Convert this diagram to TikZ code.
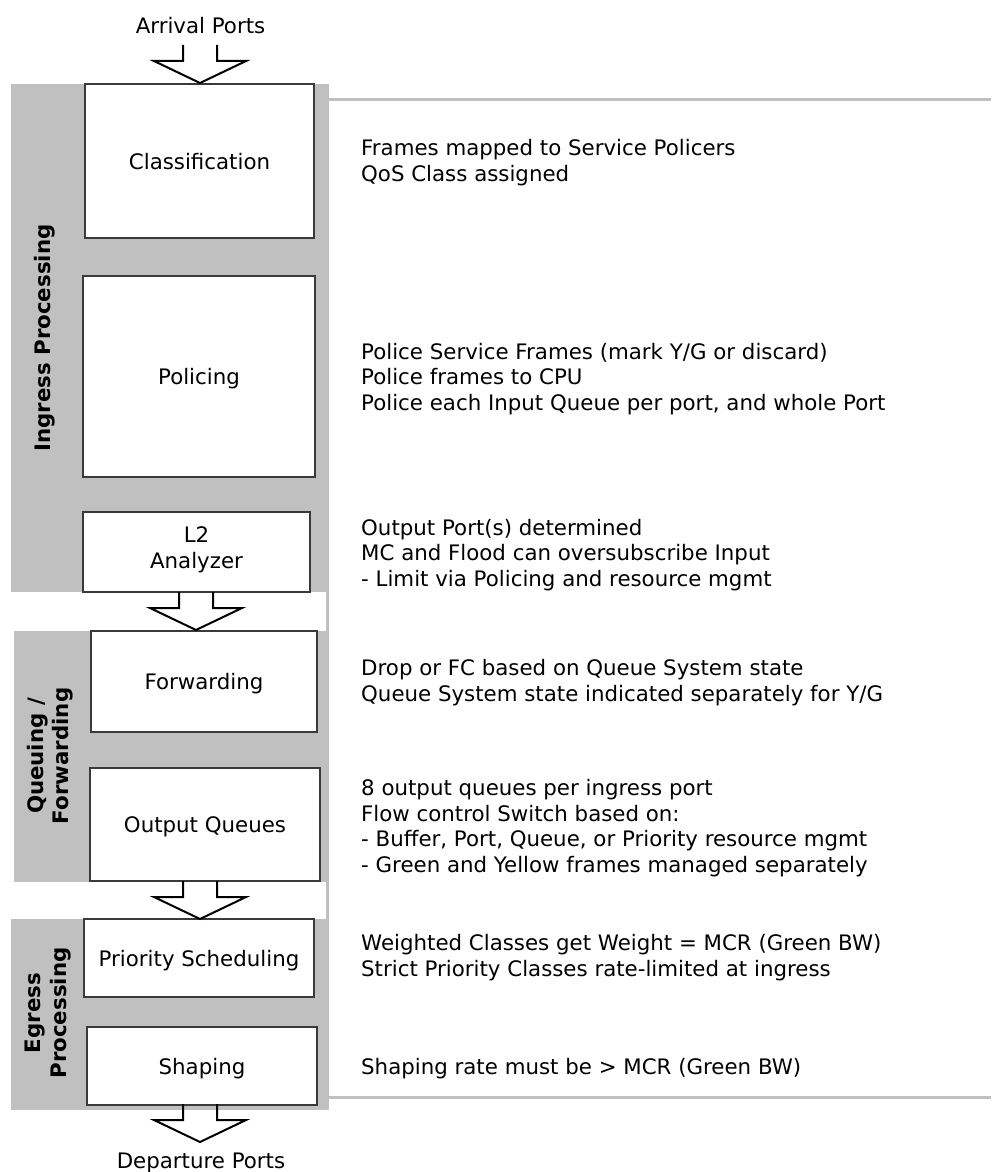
\documentclass[tikz,border=0pt]{standalone}
\usepackage{fontspec}
\setmainfont{DejaVu Sans}
\definecolor{bandgray}{HTML}{C0C0C0}
\definecolor{boxline}{HTML}{3A3A3A}
\tikzset{
  band/.style={fill=bandgray, draw=none},
  bracket/.style={draw=bandgray, line width=3pt},
  stagebox/.style={draw=boxline, fill=white, line width=1.2pt, rectangle, anchor=north west, inner sep=0pt, outer sep=0pt},
  stagelabel/.style={font=\fontsize{21.33}{25.5}\selectfont, align=center, anchor=base, inner sep=0pt},
  note/.style={font=\fontsize{21.33}{25.5}\selectfont, align=left, anchor=base west, inner sep=0pt},
  bandlabel/.style={font=\bfseries\fontsize{21.33}{25.5}\selectfont, align=center, rotate=90, inner sep=0pt},
  portlabel/.style={font=\fontsize{21.33}{25.5}\selectfont, anchor=base, inner sep=0pt},
  arrowline/.style={draw=black, line width=2pt, line join=miter},
  blockarrow/.pic={\draw[arrowline] (-17,-38) -- (-17,-22) -- (-46,-22) -- (0,0) -- (46,-22) -- (17,-22) -- (17,-38);}
}
\begin{document}
\begin{tikzpicture}[x=1pt,y=-1pt]
\useasboundingbox (0,0) rectangle (991,1172);
% bands
\fill[band] (11,84) rectangle (329,592);
\fill[band] (14,631) rectangle (329,882);
\fill[band] (11,919) rectangle (329,1110);
% bracket
\draw[bracket] (991,99.5) -- (327.5,99.5) -- (327.5,1097.5) -- (991,1097.5);
% band labels
\node[bandlabel] (ing) at (45,338) {Ingress Processing};
\node[bandlabel] (que) at (50,756) {Queuing /\\Forwarding};
\node[bandlabel] (egr) at (48,1013) {Egress\\Processing};
% boxes
\node[stagebox, minimum width=229pt, minimum height=154pt] (cls) at (85,84) {};
\node[stagebox, minimum width=232pt, minimum height=201pt] (pol) at (83,276) {};
\node[stagebox, minimum width=227pt, minimum height=80pt] (l2) at (83,512) {};
\node[stagebox, minimum width=226pt, minimum height=101pt] (fwd) at (91,631) {};
\node[stagebox, minimum width=230pt, minimum height=113pt] (oq) at (90,768) {};
\node[stagebox, minimum width=230pt, minimum height=78pt] (ps) at (84,919) {};
\node[stagebox, minimum width=230pt, minimum height=78pt] (shp) at (87,1027) {};
% box labels
\node[stagelabel] (clsT) at (199.5,169) {Classification};
\node[stagelabel] (polT) at (199,384) {Policing};
\node[stagelabel] (l2T) at (196.5,568) {L2\\Analyzer};
\node[stagelabel] (fwdT) at (204,689) {Forwarding};
\node[stagelabel] (oqT) at (205,832) {Output Queues};
\node[stagelabel] (psT) at (199,966) {Priority Scheduling};
\node[stagelabel] (shpT) at (202,1074) {Shaping};
% ports
\node[portlabel] (arr) at (200.5,33.5) {Arrival Ports};
\node[portlabel] (dep) at (201,1168) {Departure Ports};
% arrows
\coordinate (a1) at (200,83);
\coordinate (a2) at (196,630);
\coordinate (a3) at (200,919);
\coordinate (a4) at (200,1142);
\pic at (a1) {blockarrow};
\pic at (a2) {blockarrow};
\pic at (a3) {blockarrow};
\pic at (a4) {blockarrow};
% notes (anchor = baseline of last line)
\node[note] (n1) at (361,181) {Frames mapped to Service Policers\\QoS Class assigned};
\node[note] (n2) at (361,410) {Police Service Frames (mark Y/G or discard)\\Police frames to CPU\\Police each Input Queue per port, and whole Port};
\node[note] (n3) at (361,586) {Output Port(s) determined\\MC and Flood can oversubscribe Input\\ - Limit via Policing and resource mgmt};
\node[note] (n4) at (361,701) {Drop or FC based on Queue System state\\Queue System state indicated separately for Y/G};
\node[note] (n5) at (361,872) {8 output queues per ingress port\\Flow control Switch based on:\\ - Buffer, Port, Queue, or Priority resource mgmt\\ - Green and Yellow frames managed separately};
\node[note] (n6) at (361,976) {Weighted Classes get Weight = MCR (Green BW)\\Strict Priority Classes rate-limited at ingress};
\node[note] (n7) at (361,1074) {Shaping rate must be > MCR (Green BW)};
\end{tikzpicture}
\end{document}
